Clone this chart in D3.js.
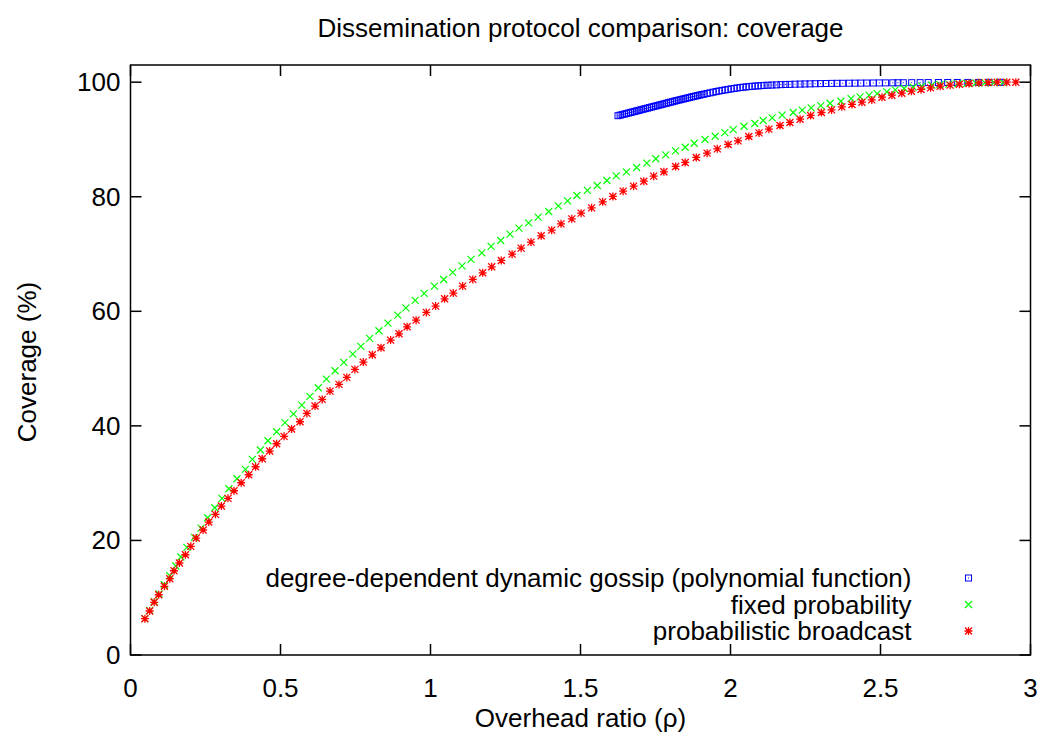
<html>
<head>
  <script type="text/javascript" src="https://d3js.org/d3.v7.min.js"></script>
  <style>
    body { margin: 0; background: #fff; }
    text { font-family: "Liberation Sans", Arial, sans-serif; fill: #000; }
  </style>
</head>
<body>
<div id="chart"></div>
<script>
  // degree-dependent dynamic gossip (polynomial function)
  var blueRho = [
    1.625,1.632,1.639,1.646,1.653,1.660,1.667,1.674,1.681,1.688,
    1.695,1.702,1.709,1.716,1.723,1.730,1.737,1.744,1.751,1.758,
    1.765,1.772,1.779,1.786,1.793,1.800,1.807,1.814,1.821,1.828,
    1.835,1.842,1.849,1.856,1.863,1.870,1.877,1.884,1.891,1.898,
    1.905,1.912,1.922,1.932,1.942,1.952,1.962,1.972,1.982,1.992,
    2.002,2.012,2.022,2.032,2.042,2.052,2.062,2.072,2.082,2.092,
    2.102,2.112,2.125,2.138,2.153,2.168,2.183,2.198,2.215,2.232,
    2.248,2.265,2.282,2.300,2.318,2.337,2.355,2.374,2.396,2.415,
    2.434,2.454,2.476,2.496,2.517,2.541,2.558,2.576,2.604,2.632,
    2.659,2.693,2.724,2.756,2.791,2.826,2.862,2.898];
  var blueCov = [
    94.15,94.24,94.34,94.43,94.53,94.62,94.72,94.81,94.90,95.00,
    95.09,95.19,95.28,95.38,95.47,95.57,95.66,95.76,95.85,95.95,
    96.04,96.13,96.23,96.32,96.42,96.51,96.60,96.70,96.79,96.88,
    96.97,97.06,97.15,97.24,97.33,97.42,97.51,97.59,97.67,97.76,
    97.84,97.92,98.03,98.14,98.25,98.36,98.46,98.56,98.65,98.74,
    98.83,98.91,98.99,99.06,99.12,99.18,99.23,99.28,99.32,99.36,
    99.40,99.44,99.47,99.50,99.53,99.57,99.60,99.62,99.65,99.67,
    99.69,99.71,99.73,99.75,99.77,99.79,99.80,99.81,99.82,99.83,
    99.84,99.85,99.86,99.87,99.88,99.89,99.90,99.90,99.91,99.92,
    99.93,99.94,99.95,99.95,99.96,99.96,99.97,99.97];

  // fixed probability
  var greenRho = [
    0.048,0.064,0.079,0.095,0.113,0.131,0.151,0.168,0.188,0.213,
    0.235,0.257,0.281,0.305,0.328,0.355,0.383,0.406,0.433,0.458,
    0.487,0.515,0.543,0.571,0.598,0.626,0.653,0.682,0.711,0.741,
    0.768,0.797,0.828,0.858,0.891,0.918,0.949,0.979,1.013,1.044,
    1.074,1.105,1.135,1.171,1.202,1.234,1.265,1.295,1.327,1.359,
    1.394,1.426,1.457,1.488,1.523,1.556,1.588,1.619,1.653,1.687,
    1.721,1.751,1.784,1.817,1.849,1.879,1.915,1.949,1.981,2.009,
    2.045,2.081,2.109,2.139,2.172,2.209,2.239,2.269,2.301,2.332,
    2.368,2.402,2.432,2.462,2.489,2.521,2.549,2.579,2.609,2.638,
    2.671,2.698,2.728,2.758,2.788,2.818,2.848,2.878,2.908];
  var greenCov = [
    6.34,7.80,9.30,10.65,12.27,13.84,15.53,17.10,18.79,20.54,
    22.16,23.96,25.71,27.35,29.02,30.77,32.41,34.15,35.78,37.40,
    38.97,40.58,42.09,43.63,45.15,46.66,48.17,49.62,51.08,52.53,
    53.87,55.27,56.60,57.94,59.34,60.61,61.90,63.12,64.40,65.56,
    66.79,67.94,69.06,70.21,71.33,72.37,73.47,74.52,75.45,76.44,
    77.43,78.41,79.29,80.22,81.10,81.97,82.84,83.65,84.35,85.11,
    85.88,86.63,87.31,88.01,88.64,89.34,89.99,90.56,91.20,91.73,
    92.31,92.79,93.31,93.78,94.24,94.71,95.11,95.52,95.92,96.32,
    96.67,97.14,97.43,97.73,98.01,98.31,98.66,98.89,99.14,99.31,
    99.48,99.58,99.67,99.74,99.80,99.86,99.90,99.94,99.97];

  // probabilistic broadcast
  var redRho = [
    0.048,0.064,0.079,0.094,0.113,0.131,0.145,0.163,0.183,0.201,
    0.219,0.242,0.261,0.283,0.303,0.325,0.345,0.369,0.394,0.417,
    0.439,0.464,0.487,0.512,0.537,0.565,0.588,0.615,0.639,0.665,
    0.695,0.721,0.748,0.776,0.806,0.835,0.867,0.895,0.922,0.952,
    0.986,1.017,1.047,1.076,1.107,1.141,1.174,1.204,1.236,1.272,
    1.302,1.335,1.369,1.404,1.435,1.471,1.502,1.537,1.574,1.608,
    1.642,1.677,1.711,1.744,1.778,1.817,1.849,1.886,1.922,1.956,
    1.992,2.025,2.061,2.095,2.128,2.165,2.198,2.232,2.267,2.303,
    2.337,2.371,2.405,2.438,2.471,2.505,2.538,2.571,2.603,2.635,
    2.667,2.699,2.732,2.763,2.795,2.828,2.859,2.889,2.921,2.951];
  var redCov = [
    6.34,7.68,9.20,10.52,11.99,13.32,14.71,16.06,17.50,18.97,
    20.42,21.82,23.21,24.55,26.00,27.35,28.67,30.07,31.47,32.86,
    34.26,35.60,36.88,38.17,39.44,40.72,42.18,43.46,44.62,46.07,
    47.24,48.46,49.86,51.13,52.41,53.63,54.97,56.07,57.29,58.46,
    59.81,60.91,62.18,63.18,64.40,65.57,66.72,67.77,68.88,69.98,
    71.03,72.08,73.18,74.17,75.27,76.14,77.14,78.06,79.11,80.05,
    80.98,81.85,82.72,83.60,84.35,85.29,85.99,86.86,87.61,88.36,
    89.13,89.76,90.52,91.15,91.80,92.44,92.97,93.54,94.19,94.71,
    95.16,95.69,96.11,96.51,96.91,97.38,97.73,98.08,98.43,98.73,
    99.01,99.30,99.48,99.65,99.77,99.88,99.95,100,100,100];

  var xTicks = [0, 0.5, 1, 1.5, 2, 2.5, 3];
  var yTicks = [0, 20, 40, 60, 80, 100];
  var seriesNames = ["degree-dependent dynamic gossip (polynomial function)", "fixed probability", "probabilistic broadcast"];

  var W = 1045, H = 738;
  var margin = {top: 65, right: 14.5, bottom: 83, left: 130.5},
      width = W - margin.left - margin.right,
      height = H - margin.top - margin.bottom;

  var x = d3.scaleLinear().domain([0, 3]).range([0, width]);
  var y = d3.scaleLinear().domain([0, 103]).range([height, 0]);

  var svg = d3.select("#chart").append("svg")
      .attr("width", W)
      .attr("height", H);

  var g = svg.append("g")
      .attr("transform", "translate(" + margin.left + "," + margin.top + ")");

  var fontSize = 26;
  var tickLen = 11;

  // ticks (inward, mirrored)
  var ticks = g.append("g").attr("stroke", "#000").attr("stroke-width", 1.5);
  xTicks.forEach(function(t) {
    ticks.append("line").attr("x1", x(t)).attr("x2", x(t)).attr("y1", height).attr("y2", height - tickLen);
    ticks.append("line").attr("x1", x(t)).attr("x2", x(t)).attr("y1", 0).attr("y2", tickLen);
  });
  yTicks.forEach(function(t) {
    ticks.append("line").attr("x1", 0).attr("x2", tickLen).attr("y1", y(t)).attr("y2", y(t));
    ticks.append("line").attr("x1", width).attr("x2", width - tickLen).attr("y1", y(t)).attr("y2", y(t));
  });

  g.append("g").selectAll("text").data(xTicks).enter().append("text")
      .attr("x", function(d) { return x(d); })
      .attr("y", height + 42)
      .attr("text-anchor", "middle")
      .style("font-size", fontSize + "px")
      .text(function(d) { return d; });

  g.append("g").selectAll("text").data(yTicks).enter().append("text")
      .attr("x", -10)
      .attr("y", function(d) { return y(d) + 9; })
      .attr("text-anchor", "end")
      .style("font-size", fontSize + "px")
      .text(function(d) { return d; });

  // frame
  g.append("rect")
      .attr("width", width).attr("height", height)
      .attr("fill", "none").attr("stroke", "#000").attr("stroke-width", 1.5);

  // markers
  function square(sel, color) {
    sel.append("rect").attr("x", -3).attr("y", -3).attr("width", 6).attr("height", 6)
        .attr("fill", "none").attr("stroke", color).attr("stroke-width", 1);
    sel.append("rect").attr("x", -0.5).attr("y", -0.5).attr("width", 1).attr("height", 1)
        .attr("fill", color);
  }
  function cross(sel, color) {
    sel.append("path").attr("d", "M-3.5,-3.5L3.5,3.5M-3.5,3.5L3.5,-3.5")
        .attr("stroke", color).attr("stroke-width", 1.2).attr("fill", "none");
  }
  function star(sel, color) {
    sel.append("path").attr("d", "M-3.5,-3.5L3.5,3.5M-3.5,3.5L3.5,-3.5M-4,0L4,0M0,-4L0,4")
        .attr("stroke", color).attr("stroke-width", 1.3).attr("fill", "none");
  }

  var series = [
    {rho: blueRho, cov: blueCov, color: "#0000ff", mark: square},
    {rho: greenRho, cov: greenCov, color: "#00ff00", mark: cross},
    {rho: redRho, cov: redCov, color: "#ff0000", mark: star}
  ];

  series.forEach(function(s, i) {
    var pts = s.rho.map(function(r, k) { return [r, s.cov[k]]; });
    var layer = g.append("g");
    layer.selectAll("g").data(pts).enter().append("g")
        .attr("transform", function(d) { return "translate(" + x(d[0]) + "," + y(d[1]) + ")"; })
        .each(function() { s.mark(d3.select(this), s.color); });

    // legend
    var ly = 513 + i * 26.5;
    g.append("text")
        .attr("x", 781)
        .attr("y", ly + 9)
        .attr("text-anchor", "end")
        .style("font-size", fontSize + "px")
        .text(seriesNames[i]);
    var lg = g.append("g").attr("transform", "translate(" + 838 + "," + ly + ")");
    s.mark(lg, s.color);
  });

  // titles
  svg.append("text")
      .attr("x", margin.left + width / 2)
      .attr("y", 37)
      .attr("text-anchor", "middle")
      .style("font-size", fontSize + "px")
      .text("Dissemination protocol comparison: coverage");

  svg.append("text")
      .attr("x", margin.left + width / 2)
      .attr("y", 727)
      .attr("text-anchor", "middle")
      .style("font-size", fontSize + "px")
      .text("Overhead ratio (\u03c1)");

  svg.append("text")
      .attr("transform", "translate(36," + 362 + ") rotate(-90)")
      .attr("text-anchor", "middle")
      .style("font-size", fontSize + "px")
      .text("Coverage (%)");
</script>
</body>
</html>
